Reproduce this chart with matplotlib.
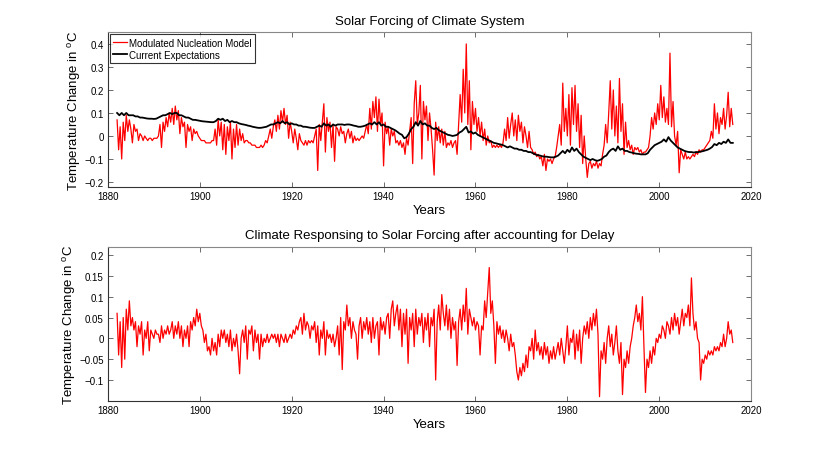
import numpy as np
import matplotlib
matplotlib.use("Agg")
import matplotlib.pyplot as plt

plt.rcParams['font.family'] = ['Liberation Sans', 'DejaVu Sans']
plt.rcParams['mathtext.fontset'] = 'custom'
plt.rcParams['mathtext.rm'] = 'Liberation Sans'
plt.rcParams['mathtext.it'] = 'Liberation Sans'

# ---------------- data ----------------
start_year = 1882
red_top_per_year = 3
black_per_year = 2
red_bottom_per_year = 3

# Modulated Nucleation Model (top panel), 3 samples per year from 1882
modulated = [
    0.07, -0.06, 0.04,  -0.10, 0.06, -0.02,  0.09, 0.02, 0.07,  0.03, -0.03, 0.05,
    0.02, 0.03, -0.02,  0.01, 0.00, -0.02,  0.00, -0.01, -0.02,  -0.01, -0.01, -0.02,
    -0.01, -0.01, -0.01,  0.00, 0.05, -0.05,  0.06, 0.02, 0.08,  0.04, 0.10, 0.06,
    0.12, 0.05, 0.13,  0.07, 0.11, 0.01,  0.08, 0.04, 0.06,  -0.05, 0.05, 0.02,
    0.04, -0.02, 0.03,  0.01, 0.02, 0.00,  -0.01, -0.02, -0.02,  -0.02, -0.03, -0.03,
    -0.03, -0.03, -0.02,  -0.02, 0.03, -0.04,  0.07, 0.00, 0.06,  -0.06, 0.05, -0.08,
    0.04, -0.02, 0.06,  -0.10, 0.03, -0.05,  0.05, -0.04, 0.03,  -0.02, 0.01, -0.03,
    -0.02, -0.02, -0.03,  -0.03, -0.04, -0.04,  -0.04, -0.05, -0.05,  -0.05, -0.04, -0.05,
    -0.04, -0.02, -0.03,  0.00, 0.03, -0.01,  0.04, 0.07, 0.02,  0.09, 0.03, 0.11,
    0.06, 0.12, 0.05,  0.09, -0.01, 0.06,  0.02, -0.03, 0.03,  -0.01, -0.06, 0.01,
    -0.02, -0.03, -0.04,  -0.02, -0.04, -0.02,  -0.03, -0.02, -0.03,  0.00, 0.03, -0.15,
    0.05, -0.02, 0.06,  0.14, -0.07, 0.08,  0.02, 0.06, -0.05,  0.05, -0.11, 0.04,
    0.03, 0.00, 0.04,  0.01, 0.02, -0.03,  0.01, 0.03, -0.01,  0.02, -0.03, 0.00,
    -0.02, -0.01, -0.02,  -0.01, 0.00, -0.01,  0.02, 0.05, 0.01,  0.12, 0.03, 0.15,
    0.08, 0.17, 0.02,  0.16, 0.05, 0.10,  -0.13, 0.06, 0.01,  0.04, -0.04, 0.03,
    0.00, 0.02, -0.03,  -0.02, -0.04, -0.02,  -0.05, -0.03, -0.08,  -0.01, -0.04, 0.02,
    0.08, -0.12, 0.14,  0.24, 0.05, 0.10,  0.22, -0.10, 0.15,  0.07, 0.13, -0.02,
    0.10, 0.03, -0.06,  -0.17, 0.06, -0.02,  0.04, -0.03, 0.03,  -0.04, 0.02, -0.05,
    -0.03, -0.04, -0.02,  -0.05, -0.03, -0.02,  -0.08, 0.05, 0.18,  0.06, 0.29, 0.10,
    0.40, 0.05, 0.24,  -0.06, 0.15, 0.05,  0.12, 0.02, 0.08,  0.00, 0.06, -0.02,
    0.03, -0.04, 0.00,  -0.03, -0.02, -0.05,  -0.04, -0.05, -0.04,  -0.05, -0.04, -0.05,
    -0.03, 0.03, -0.02,  0.08, -0.01, 0.05,  0.10, 0.00, 0.07,  -0.02, 0.09, 0.02,
    0.06, -0.03, 0.04,  0.00, -0.05, 0.02,  -0.05, -0.06, -0.08,  -0.07, -0.09, -0.08,
    -0.10, -0.09, -0.13,  -0.08, -0.15, -0.10,  -0.11, -0.10, -0.12,  -0.10, -0.09, -0.05,
    0.00, 0.05, -0.04,  0.23, 0.02, 0.12,  0.00, 0.18, -0.04,  0.21, 0.05, 0.22,
    0.02, 0.14, -0.05,  0.09, -0.12, 0.00,  -0.10, -0.18, -0.12,  -0.11, -0.14, -0.12,
    -0.13, -0.11, -0.14,  -0.12, -0.13, -0.08,  -0.04, 0.05, -0.03,  0.10, 0.24, 0.03,
    0.20, 0.00, 0.13,  -0.03, 0.25, 0.02,  0.14, -0.08, 0.06,  -0.05, -0.02, -0.06,
    -0.04, -0.08, -0.05,  -0.06, -0.05, -0.07,  -0.06, -0.08, -0.07,  -0.07, -0.06, -0.05,
    0.00, 0.08, 0.03,  0.10, 0.05, 0.14,  0.07, 0.22, 0.08,  0.17, 0.06, 0.12,
    0.05, 0.36, 0.04,  0.15, 0.00, -0.04,  0.02, -0.16, -0.06,  -0.08, -0.10, -0.07,
    -0.10, -0.09, -0.10,  -0.09, -0.08, -0.09,  -0.07, -0.08, -0.06,  -0.07, -0.06, -0.06,
    -0.05, -0.04, -0.03,  -0.02, 0.02, -0.01,  0.14, 0.03, 0.10,  0.01, 0.08, 0.05,
    0.12, 0.03, 0.09,  0.19, 0.04, 0.12,  0.05,
]

# Current Expectations (top panel), 2 samples per year from 1882
expectations = [
    0.10, 0.09,  0.10, 0.09,  0.10, 0.09,  0.09, 0.09,  0.085, 0.085,
    0.08, 0.08,  0.078, 0.076,  0.075, 0.075,  0.074, 0.075,  0.08, 0.085,
    0.09, 0.09,  0.095, 0.10,  0.095, 0.10,  0.10, 0.09,  0.09, 0.085,
    0.08, 0.08,  0.075, 0.07,  0.07, 0.068,  0.066, 0.064,  0.063, 0.062,
    0.061, 0.06,  0.06, 0.065,  0.075, 0.07,  0.075, 0.065,  0.07, 0.06,
    0.065, 0.06,  0.06, 0.055,  0.052, 0.05,  0.048, 0.045,  0.043, 0.04,
    0.038, 0.036,  0.035, 0.036,  0.038, 0.04,  0.045, 0.05,  0.05, 0.055,
    0.06, 0.055,  0.065, 0.055,  0.06, 0.05,  0.055, 0.05,  0.05, 0.045,
    0.045, 0.04,  0.04, 0.038,  0.036, 0.035,  0.035, 0.04,  0.045, 0.04,
    0.055, 0.045,  0.05, 0.04,  0.05, 0.045,  0.05, 0.05,  0.05, 0.048,
    0.05, 0.05,  0.048, 0.045,  0.043, 0.04,  0.04, 0.042,  0.045, 0.05,
    0.055, 0.05,  0.06, 0.05,  0.06, 0.045,  0.05, 0.04,  0.04, 0.035,
    0.03, 0.025,  0.018, 0.01,  0.005, -0.01,  -0.005, 0.01,  0.03, 0.04,
    0.06, 0.045,  0.065, 0.05,  0.055, 0.045,  0.045, 0.035,  0.03, 0.035,
    0.025, 0.02,  0.015, 0.01,  0.005, 0.003,  0.0, 0.002,  0.005, 0.015,
    0.02, 0.03,  0.04, 0.015,  0.02, 0.01,  0.015, 0.005,  0.0, -0.005,
    -0.01, -0.015,  -0.02, -0.025,  -0.03, -0.032,  -0.035, -0.037,  -0.04, -0.045,
    -0.05, -0.045,  -0.05, -0.055,  -0.055, -0.06,  -0.06, -0.065,  -0.065, -0.07,
    -0.07, -0.075,  -0.08, -0.083,  -0.085, -0.088,  -0.09, -0.09,  -0.092, -0.093,
    -0.093, -0.09,  -0.085, -0.075,  -0.065, -0.075,  -0.06, -0.07,  -0.05, -0.065,
    -0.055, -0.07,  -0.08, -0.09,  -0.095, -0.10,  -0.105, -0.10,  -0.105, -0.108,
    -0.105, -0.10,  -0.09, -0.085,  -0.07, -0.06,  -0.055, -0.065,  -0.045, -0.06,
    -0.055, -0.065,  -0.065, -0.07,  -0.072, -0.075,  -0.077, -0.078,  -0.08, -0.08,
    -0.08, -0.075,  -0.06, -0.05,  -0.04, -0.035,  -0.03, -0.025,  -0.015, -0.025,
    -0.005, -0.02,  -0.03, -0.04,  -0.05, -0.055,  -0.06, -0.065,  -0.068, -0.07,
    -0.07, -0.072,  -0.07, -0.07,  -0.068, -0.066,  -0.063, -0.06,  -0.055, -0.048,
    -0.035, -0.04,  -0.03, -0.035,  -0.025, -0.03,  -0.015, -0.03,  -0.03,
]

# Climate response after delay (bottom panel), 3 samples per year from 1882
response = [
    0.06, -0.04, 0.04,  -0.07, 0.05, -0.05,  0.07, 0.02, 0.09,  0.03, 0.05, 0.02,
    0.04, -0.02, 0.03,  0.01, 0.04, -0.04,  0.02, 0.00, 0.04,  -0.03, 0.02, 0.01,
    0.00, 0.02, 0.01,  0.01, -0.01, 0.03,  0.00, 0.02, 0.01,  0.03, 0.01, 0.02,
    0.04, 0.00, 0.03,  0.01, 0.04, 0.00,  0.03, -0.02, 0.02,  0.00, 0.03, -0.02,
    0.04, 0.02, 0.05,  0.03, 0.07, 0.04,  0.06, 0.03, 0.02,  -0.01, 0.01, -0.03,
    -0.02, -0.04, 0.00,  -0.03, -0.01, -0.04,  0.01, -0.02, 0.02,  0.00, 0.02, -0.01,
    0.01, -0.02, 0.02,  -0.03, 0.00, -0.02,  0.01, -0.03, -0.085,  0.00, 0.02, -0.01,
    0.03, -0.05, 0.02,  0.01, 0.03, -0.03,  0.02, -0.01, 0.01,  -0.05, 0.01, -0.02,
    0.00, -0.01, 0.01,  -0.01, 0.00, 0.01,  0.00, 0.01, -0.01,  0.01, -0.02, 0.01,
    0.00, -0.01, 0.01,  -0.01, 0.00, 0.01,  0.00, 0.02, 0.01,  0.03, 0.02, 0.04,
    0.05, 0.01, 0.06,  0.02, 0.04, 0.03,  0.00, 0.03, 0.02,  0.04, -0.01, 0.03,
    -0.04, 0.02, 0.00,  0.04, -0.04, 0.02,  0.00, 0.01, -0.01,  0.01, -0.02, 0.00,
    0.03, -0.04, 0.05,  -0.075, 0.04, 0.02,  0.08, 0.03, 0.05,  0.00, 0.04, 0.02,
    0.01, -0.05, 0.03,  0.05, 0.00, 0.04,  0.02, 0.05, 0.01,  0.04, -0.01, 0.05,
    0.00, 0.03, 0.04,  -0.04, 0.05, 0.02,  0.04, 0.01, 0.05,  0.06, 0.00, 0.07,
    0.09, 0.03, 0.06,  0.08, 0.02, 0.07,  -0.02, 0.06, 0.01,  0.07, -0.06, 0.05,
    0.02, 0.06, -0.02,  0.07, 0.01, 0.05,  0.03, 0.06, -0.01,  0.05, 0.02, 0.06,
    -0.02, 0.05, 0.03,  0.07, -0.10, 0.04,  0.08, 0.02, 0.105,  0.06, 0.03, 0.08,
    0.02, 0.07, 0.00,  0.05, 0.02, 0.04,  -0.065, 0.04, 0.07,  0.02, 0.08, 0.04,
    0.12, 0.01, 0.07,  0.05, 0.03, 0.05,  0.02, 0.04, 0.03,  -0.04, 0.03, 0.02,
    0.09, 0.05, 0.11,  0.17, 0.06, 0.09,  0.03, -0.06, 0.04,  0.01, 0.03, 0.00,
    0.02, -0.01, 0.02,  0.00, -0.03, 0.01,  -0.02, -0.01, -0.04,  -0.08, -0.10, -0.07,
    -0.09, -0.06, -0.08,  -0.04, -0.07, -0.02,  -0.03, 0.00, -0.05,  0.02, -0.03, -0.01,
    -0.04, -0.02, -0.05,  -0.01, -0.04, -0.02,  -0.06, -0.03, -0.05,  -0.02, -0.05, -0.03,
    -0.01, -0.04, 0.00,  -0.03, -0.06, -0.02,  0.03, -0.04, 0.00,  -0.01, 0.02, -0.05,
    0.01, -0.03, 0.02,  -0.06, 0.00, 0.03,  0.01, 0.04, 0.00,  0.05, 0.02, 0.06,
    0.03, 0.07, 0.01,  -0.14, -0.03, -0.05,  -0.01, -0.06, 0.00,  0.03, -0.02, 0.01,
    -0.04, -0.01, 0.03,  -0.03, -0.06, -0.01,  -0.135, -0.05, -0.07,  -0.03, -0.06, -0.02,
    0.00, 0.03, 0.05,  0.08, 0.04, 0.06,  0.02, 0.10, -0.02,  -0.13, -0.05, -0.07,
    -0.03, -0.06, -0.02,  -0.04, 0.00, -0.01,  0.01, 0.00, 0.03,  0.02, 0.00, 0.04,
    0.03, 0.01, 0.05,  0.02, 0.06, 0.03,  0.05, 0.01, 0.04,  0.07, 0.03, 0.06,
    0.05, 0.08, 0.03,  0.145, 0.06, 0.02,  0.04, 0.00, -0.01,  -0.10, -0.05, -0.06,
    -0.04, -0.05, -0.03,  -0.04, -0.03, -0.04,  -0.02, -0.03, -0.02,  -0.03, -0.01, -0.02,
    0.01, -0.02, 0.00,  0.04, 0.01, 0.02,  -0.01,
]

top_yticks = [-0.2, -0.1, 0, 0.1, 0.2, 0.3, 0.4]
top_yticklabels = ['\u22120.2', '\u22120.1', '0', '0.1', '0.2', '0.3', '0.4']
bot_yticks = [-0.1, -0.05, 0, 0.05, 0.1, 0.15, 0.2]
bot_yticklabels = ['\u22120.1', '\u22120.05', '0', '0.05', '0.1', '0.15', '0.2']
xticks = [1880, 1900, 1920, 1940, 1960, 1980, 2000, 2020]

title_top = 'Solar Forcing of Climate System'
title_bot = 'Climate Responsing to Solar Forcing after accounting for Delay'
ylabel = 'Temperature Change in $^{\\mathrm{o}}$C'
xlabel = 'Years'
legend_labels = ['Modulated Nucleation Model', 'Current Expectations']

# ---------------- plotting ----------------
t_mod = start_year + np.arange(len(modulated)) / red_top_per_year
t_exp = start_year + np.arange(len(expectations)) / black_per_year
t_res = start_year + np.arange(len(response)) / red_bottom_per_year

fig = plt.figure(figsize=(8.3, 4.52), dpi=100)
ax1 = fig.add_axes([0.130, 0.585, 0.775, 0.341])
ax2 = fig.add_axes([0.130, 0.111, 0.775, 0.341])

ax1.plot(t_mod, modulated, color='#ff0000', lw=0.9, label=legend_labels[0])
ax1.plot(t_exp, expectations, color='black', lw=1.3, label=legend_labels[1])
ax2.plot(t_res, response, color='#ff0000', lw=0.9)

for ax, yt, ytl, ylim, title, labx in [
    (ax1, top_yticks, top_yticklabels, (-0.22, 0.45), title_top, -0.038),
    (ax2, bot_yticks, bot_yticklabels, (-0.15, 0.22), title_bot, -0.047),
]:
    ax.set_xlim(1880, 2020)
    ax.set_ylim(*ylim)
    ax.set_xticks(xticks)
    ax.set_xticklabels([str(x) for x in xticks])
    ax.set_yticks(yt)
    ax.set_yticklabels(ytl)
    ax.tick_params(direction='in', top=True, right=True, length=3.5,
                   width=0.6, color='#555555', labelsize=7, pad=3)
    for side in ['left', 'bottom']:
        ax.spines[side].set_color('#333333')
        ax.spines[side].set_linewidth(0.8)
    for side in ['top', 'right']:
        ax.spines[side].set_color('#888888')
        ax.spines[side].set_linewidth(0.8)
    ax.set_title(title, fontsize=9.5, pad=6)
    ax.set_ylabel(ylabel, fontsize=9.5)
    ax.yaxis.set_label_coords(labx, 0.5)
    ax.set_xlabel(xlabel, fontsize=9.5, labelpad=2)

leg = ax1.legend(loc='upper left', fontsize=7, frameon=True, fancybox=False,
                 borderaxespad=0.2, borderpad=0.35, labelspacing=0.2,
                 handlelength=1.4, handletextpad=0.2)
leg.get_frame().set_edgecolor('black')
leg.get_frame().set_linewidth(0.8)

fig.savefig('out.png', dpi=100)
